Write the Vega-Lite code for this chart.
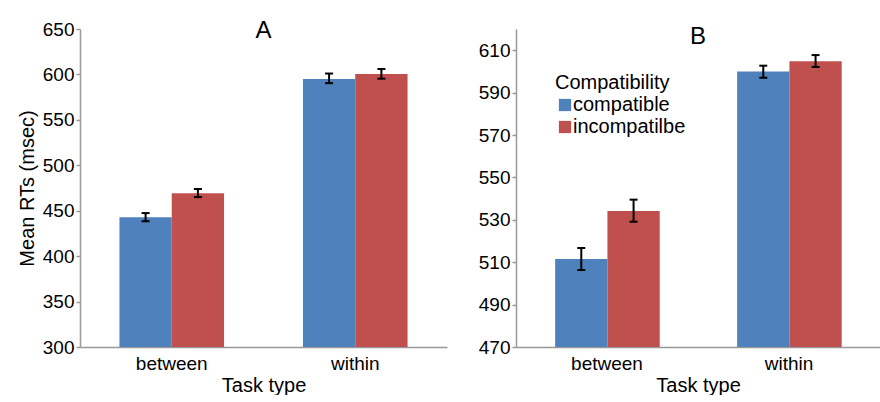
{
  "$schema": "https://vega.github.io/schema/vega-lite/v6.json",
  "padding": {"left": 17, "top": 19, "right": 0, "bottom": 0},
  "background": "white",
  "config": {
    "font": "Liberation Sans",
    "view": {"stroke": null},
    "axis": {
      "domainColor": "#999999",
      "domainWidth": 1.5,
      "tickColor": "#999999",
      "tickWidth": 1.5,
      "tickSize": 4,
      "grid": false,
      "labelColor": "#000000",
      "labelFontSize": 19,
      "titleFontSize": 20,
      "titleFontWeight": "normal",
      "titleColor": "#000000"
    },
    "title": {"fontSize": 24, "fontWeight": "normal", "color": "#000000"}
  },
  "datasets": {
    "a": [
      {"task": "between", "comp": "compatible", "mean": 442.7, "lo": 438.4, "hi": 447.4},
      {"task": "between", "comp": "incompatilbe", "mean": 469.2, "lo": 465.0, "hi": 473.9},
      {"task": "within", "comp": "compatible", "mean": 595.0, "lo": 590.4, "hi": 601.0},
      {"task": "within", "comp": "incompatilbe", "mean": 600.5, "lo": 595.3, "hi": 606.0}
    ],
    "b": [
      {"task": "between", "comp": "compatible", "mean": 511.5, "lo": 506.3, "hi": 516.7},
      {"task": "between", "comp": "incompatilbe", "mean": 534.2, "lo": 529.1, "hi": 539.5},
      {"task": "within", "comp": "compatible", "mean": 599.9, "lo": 597.0, "hi": 602.7},
      {"task": "within", "comp": "incompatilbe", "mean": 604.8, "lo": 602.1, "hi": 607.7}
    ]
  },
  "spacing": 31,
  "resolve": {"scale": {"color": "independent"}, "legend": {"color": "independent"}},
  "hconcat": [
    {
      "width": 367,
      "height": 318,
      "title": {"text": "A", "offset": -42, "baseline": "alphabetic", "anchor": "middle"},
      "data": {"name": "a"},
      "encoding": {
        "x": {"field": "task", "type": "nominal", "sort": ["between", "within"],
          "scale": {"paddingInner": 0.43, "paddingOuter": 0.215},
          "axis": {"title": "Task type", "ticks": false, "labelAngle": 0, "labelPadding": 7, "titlePadding": 2}},
        "xOffset": {"field": "comp", "type": "nominal", "sort": ["compatible", "incompatilbe"]}
      },
      "layer": [
        {
          "mark": {"type": "bar"},
          "encoding": {
            "y": {"field": "mean", "type": "quantitative", "title": "Mean RTs (msec)",
              "scale": {"domain": [300, 650], "nice": false, "zero": false},
              "axis": {"values": [300, 350, 400, 450, 500, 550, 600, 650], "labelPadding": 2, "titlePadding": 5}},
            "y2": {"datum": 300},
            "color": {"field": "comp", "type": "nominal",
              "scale": {"domain": ["compatible", "incompatilbe"], "range": ["#4F81BD", "#C0504D"]},
              "legend": null}
          }
        },
        {
          "mark": {"type": "rule", "color": "#000000", "strokeWidth": 2},
          "encoding": {
            "y": {"field": "lo", "type": "quantitative", "title": "Mean RTs (msec)"},
            "y2": {"field": "hi"}
          }
        },
        {
          "mark": {"type": "tick", "color": "#000000", "thickness": 2, "size": 8, "opacity": 1},
          "encoding": {"y": {"field": "lo", "type": "quantitative", "title": "Mean RTs (msec)"}}
        },
        {
          "mark": {"type": "tick", "color": "#000000", "thickness": 2, "size": 8, "opacity": 1},
          "encoding": {"y": {"field": "hi", "type": "quantitative", "title": "Mean RTs (msec)"}}
        }
      ]
    },
    {
      "width": 364,
      "height": 318,
      "title": {"text": "B", "offset": -39, "baseline": "alphabetic", "anchor": "middle"},
      "data": {"name": "b"},
      "encoding": {
        "x": {"field": "task", "type": "nominal", "sort": ["between", "within"],
          "scale": {"paddingInner": 0.43, "paddingOuter": 0.215},
          "axis": {"title": "Task type", "ticks": false, "labelAngle": 0, "labelPadding": 7, "titlePadding": 2}},
        "xOffset": {"field": "comp", "type": "nominal", "sort": ["compatible", "incompatilbe"]}
      },
      "layer": [
        {
          "mark": {"type": "bar"},
          "encoding": {
            "y": {"field": "mean", "type": "quantitative", "title": null,
              "scale": {"domain": [470, 620], "nice": false, "zero": false},
              "axis": {"values": [470, 490, 510, 530, 550, 570, 590, 610], "labelPadding": 2}},
            "y2": {"datum": 470},
            "color": {"field": "comp", "type": "nominal",
              "scale": {"domain": ["compatible", "incompatilbe"], "range": ["#4F81BD", "#C0504D"]},
              "legend": {
                "title": "Compatibility", "orient": "none", "legendX": 39, "legendY": 44,
                "titleFontSize": 20, "titleFontWeight": "normal", "titleColor": "#000000",
                "labelFontSize": 20, "labelColor": "#000000",
                "symbolType": "square", "symbolSize": 150, "symbolStrokeWidth": 0, "symbolOpacity": 1,
                "labelOffset": -2, "rowPadding": 2, "titlePadding": 2
              }}
          }
        },
        {
          "mark": {"type": "rule", "color": "#000000", "strokeWidth": 2},
          "encoding": {
            "y": {"field": "lo", "type": "quantitative", "title": null},
            "y2": {"field": "hi"}
          }
        },
        {
          "mark": {"type": "tick", "color": "#000000", "thickness": 2, "size": 8, "opacity": 1},
          "encoding": {"y": {"field": "lo", "type": "quantitative", "title": null}}
        },
        {
          "mark": {"type": "tick", "color": "#000000", "thickness": 2, "size": 8, "opacity": 1},
          "encoding": {"y": {"field": "hi", "type": "quantitative", "title": null}}
        }
      ]
    }
  ]
}
